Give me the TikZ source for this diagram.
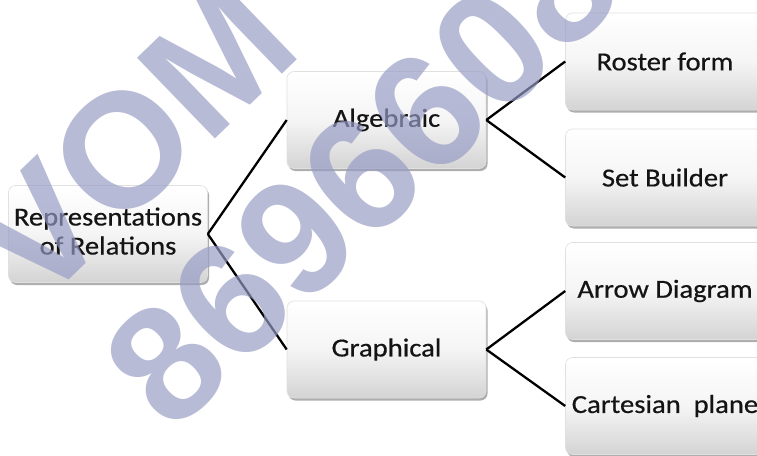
\documentclass[tikz,border=0pt]{standalone}
\usepackage{fontspec}
\setmainfont{Carlito}
\newfontfamily\boxfont[FakeBold=0.5]{Carlito}
\newfontfamily\wmfont{Liberation Sans}
\usetikzlibrary{shadows}
\definecolor{wmcol}{RGB}{150,155,196}
\tikzset{
  box/.style={draw=black!12, line width=0.6pt, rounded corners=7pt,
    top color=white, bottom color=black!17, middle color=white!96!black,
    minimum width=199pt, minimum height=97pt, inner sep=0pt, align=center,
    text=black!92,
    font=\boxfont\fontsize{26}{30}\selectfont,
    drop shadow={shadow xshift=1.5pt, shadow yshift=-2.5pt, opacity=0.45, fill=black!70}},
  conn/.style={line width=2.3pt, black},
  wm/.style={text=wmcol, opacity=0.68, rotate=44, anchor=base west, inner sep=0pt,
    font=\wmfont\bfseries\fontsize{163}{163}\selectfont}
}
\newcommand{\wx}[1]{\scalebox{1.1}[1]{#1}}
\begin{document}
\begin{tikzpicture}[x=1pt,y=-1pt]
\useasboundingbox (0,0) rectangle (757,455);
\clip (0,0) rectangle (757,455);
\fill[white] (0,0) rectangle (757,455);
\node[box] (root) at (108,234) {\raisebox{-3pt}{\wx{\begin{tabular}{@{}c@{}}Representations\\[-1pt]of Relations\end{tabular}}}};
\node[box] (alg) at (386.5,120) {\wx{Algebraic}};
\node[box] (gra) at (386.5,349.5) {\wx{Graphical}};
\node[box] (ros) at (665,61.5) {\wx{Roster form}};
\node[box] (set) at (665,177.5) {\wx{Set Builder}};
\node[box] (arr) at (665,291) {\wx{Arrow Diagram}};
\node[box] (car) at (665,406) {\wx{Cartesian\ \ plane}};
\draw[conn] (root.east) -- (alg.west);
\draw[conn] (root.east) -- (gra.west);
\draw[conn] (alg.east) -- (ros.west);
\draw[conn] (alg.east) -- (set.west);
\draw[conn] (gra.east) -- (arr.west);
\draw[conn] (gra.east) -- (car.west);
\node[wm] (wm1) at (38,310) {VOM};
\node[wm] (wm2) at (172,436) {8696608};
\end{tikzpicture}
\end{document}
